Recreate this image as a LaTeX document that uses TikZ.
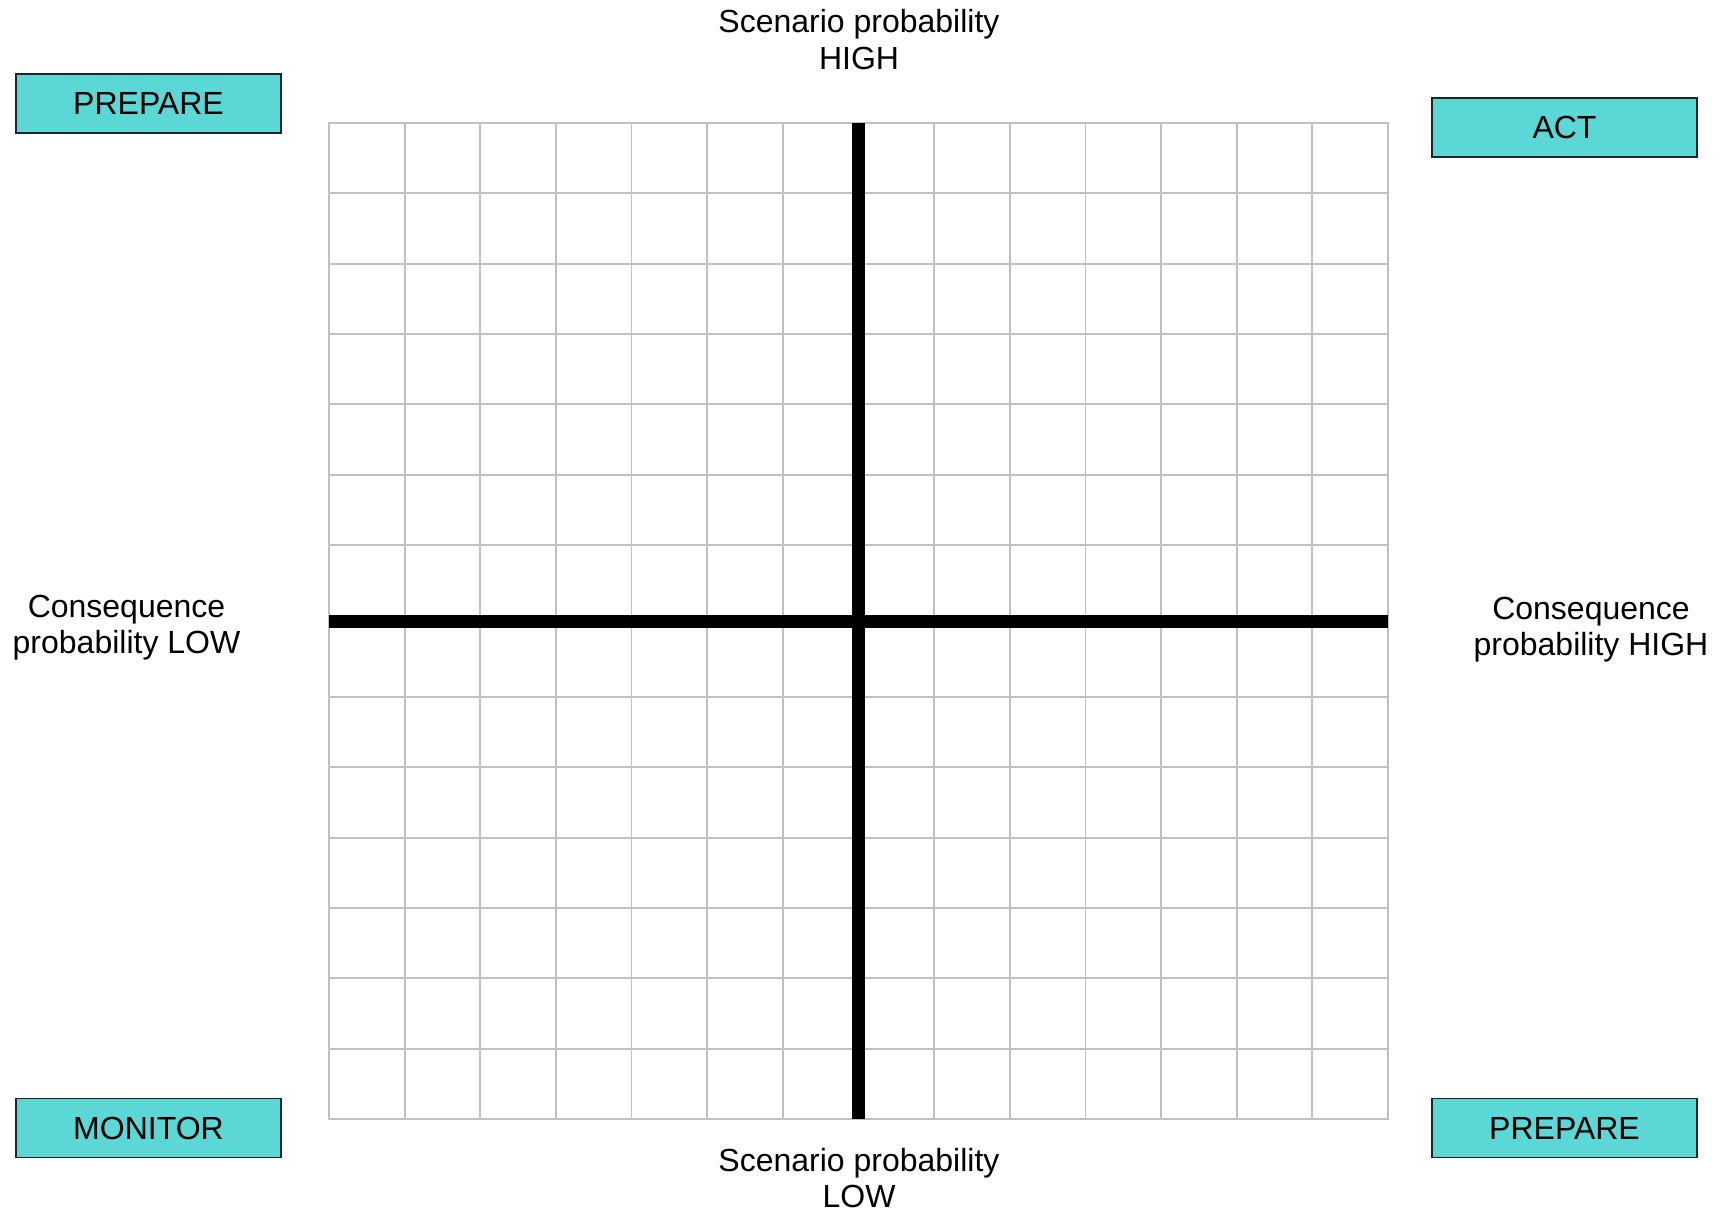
\documentclass[tikz,border=0pt]{standalone}
\usepackage{fontspec}
\setmainfont{Liberation Sans}
\definecolor{boxfill}{RGB}{91,215,214}
\definecolor{gridgray}{RGB}{192,192,192}
\definecolor{boxline}{RGB}{34,34,34}
\begin{document}
\begin{tikzpicture}[x=1pt,y=-1pt,
  lbl/.style={font=\fontsize{32}{37}\selectfont, inner sep=0pt, anchor=base},
  quadbox/.style={draw=boxline, line width=1.6pt, fill=boxfill, minimum width=265pt,
    minimum height=59pt, inner sep=0pt, font=\fontsize{32}{37}\selectfont},
  gridline/.style={draw=gridgray, line width=1.8pt},
  axisline/.style={draw=black, line width=13pt}]
\useasboundingbox (0,0) rectangle (1726,1212);
% grid: vertical lines
\foreach \i in {0,...,14} {
  \draw[gridline] ({329+\i*1059/14},123) -- ({329+\i*1059/14},1119);
}
% grid: horizontal lines (upper and lower halves)
\foreach \i in {0,...,6} {
  \draw[gridline] (329,{123+\i*422/6}) -- (1388,{123+\i*422/6});
  \draw[gridline] (329,{697+\i*422/6}) -- (1388,{697+\i*422/6});
}
\draw[gridline] (329,123) rectangle (1388,1119);
% axes
\coordinate (vtop) at (858.5,123);
\coordinate (vbot) at (858.5,1119);
\coordinate (hleft) at (329,621.5);
\coordinate (hright) at (1388,621.5);
\draw[axisline] (vtop) -- (vbot);
\draw[axisline] (hleft) -- (hright);
% boxes
\node[quadbox] (prepTL) at (148.5,103.5) {PREPARE};
\node[quadbox] (act) at (1564.5,127.5) {ACT};
\node[quadbox] (monitor) at (148.5,1128) {MONITOR};
\node[quadbox] (prepBR) at (1564.5,1128) {PREPARE};
% labels
\node[lbl] (top1) at (859,33) {Scenario probability};
\node[lbl] (top2) at (859,70) {HIGH};
\node[lbl] (bot1) at (859,1171) {Scenario probability};
\node[lbl] (bot2) at (859,1207.5) {LOW};
\node[lbl] (left1) at (126.5,617) {Consequence};
\node[lbl] (left2) at (126.5,653.5) {probability LOW};
\node[lbl] (right1) at (1591,619) {Consequence};
\node[lbl] (right2) at (1591,655.5) {probability HIGH};
\end{tikzpicture}
\end{document}
